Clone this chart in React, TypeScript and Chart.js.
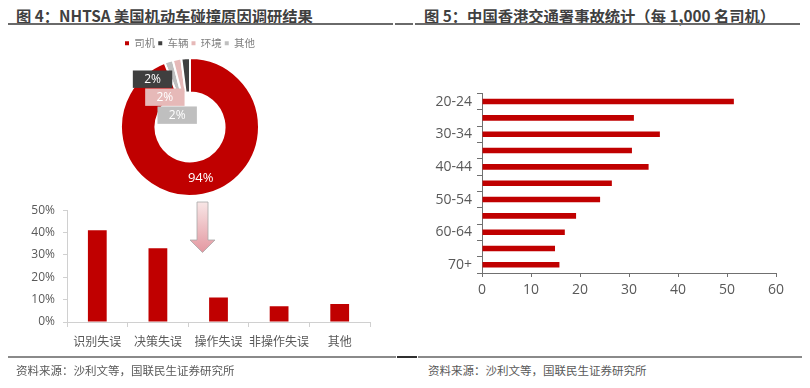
import React, { useEffect, useRef } from 'react';
import { Chart, registerables } from 'chart.js';

Chart.register(...registerables);

const FONT = '"Open Sans", "Noto Sans CJK SC", sans-serif';
const CJK = '"Noto Sans CJK SC", sans-serif';

// ---- Figure 4: doughnut ----
const pieLabels = ['司机', '车辆', '环境', '其他'];
const pieValues = [94, 2, 2, 2];
const pieColors = ['#C00000', '#3F3F3F', '#E6B9B8', '#BFBFBF'];

// ---- Figure 4: bar ----
const causeLabels = ['识别失误', '决策失误', '操作失误', '非操作失误', '其他'];
const causeValues = [41, 33, 11, 7, 8];
const causeTicks = [0, 10, 20, 30, 40, 50];

// ---- Figure 5: horizontal bar ----
const ageLabels = ['20-24', '25-29', '30-34', '35-39', '40-44', '45-49', '50-54', '55-59', '60-64', '65-69', '70+'];
const ageValues = [51.4, 31.0, 36.3, 30.6, 34.0, 26.5, 24.1, 19.2, 16.9, 14.9, 15.8];
const ageShownLabels = ['20-24', '30-34', '40-44', '50-54', '60-64', '70+'];
const ageTicks = [0, 10, 20, 30, 40, 50, 60];

const pieLabelPlugin = {
  id: 'pieLabelPlugin',
  afterDatasetsDraw(chart: any) {
    const ctx = chart.ctx;
    const meta = chart.getDatasetMeta(0);
    const ds = chart.data.datasets[0];
    const colors = ds.backgroundColor as string[];
    const smallIdx: number[] = [];
    ds.data.forEach((v: number, i: number) => { if (v < 10) smallIdx.push(i); });
    ctx.save();
    ctx.textAlign = 'center';
    ctx.textBaseline = 'middle';
    meta.data.forEach((arc: any, i: number) => {
      const v = ds.data[i];
      const label = v + '%';
      if (v >= 10) {
        const p = arc.tooltipPosition(true);
        ctx.font = `13px ${FONT}`;
        ctx.fillStyle = '#ffffff';
        ctx.fillText(label, p.x + 1, p.y);
      } else {
        const { x, y, outerRadius } = arc.getProps(['x', 'y', 'outerRadius'], true);
        const k = smallIdx.length - 1 - smallIdx.indexOf(i);
        const cx = x + outerRadius * (-0.543 + 0.1786 * k);
        const cy = y + outerRadius * (-0.693 + 0.2607 * k);
        const w = outerRadius * 0.571;
        const h = outerRadius * 0.252;
        ctx.fillStyle = colors[i];
        ctx.fillRect(cx - w / 2, cy - h / 2, w, h);
        ctx.font = `12px ${FONT}`;
        ctx.fillStyle = '#ffffff';
        ctx.fillText(label, cx, cy + 0.5);
      }
    });
    ctx.restore();
  },
};

export default function App() {
  const pieRef = useRef<HTMLCanvasElement>(null);
  const barRef = useRef<HTMLCanvasElement>(null);
  const hbarRef = useRef<HTMLCanvasElement>(null);

  useEffect(() => {
    Chart.defaults.font.family = FONT;
    const charts: Chart[] = [];

    // draw order clockwise from start: 其他, 环境, 车辆, 司机
    const order = pieLabels.map((_, i) => i).reverse();
    const total = pieValues.reduce((a, b) => a + b, 0);
    const smallShare = (total - pieValues[0]) / total;

    charts.push(new Chart(pieRef.current!, {
      type: 'doughnut',
      data: {
        labels: order.map((i) => pieLabels[i]),
        datasets: [{
          data: order.map((i) => pieValues[i]),
          backgroundColor: order.map((i) => pieColors[i]),
          borderColor: '#ffffff',
          borderWidth: 2,
        }],
      },
      options: {
        responsive: false,
        animation: false,
        devicePixelRatio: 1,
        rotation: -smallShare * 360,
        cutout: '50%',
        layout: { padding: { left: 20, right: 21, top: 0, bottom: 0 } },
        plugins: {
          tooltip: { enabled: false },
          legend: {
            position: 'top',
            reverse: true,
            maxHeight: 22,
            labels: {
              usePointStyle: true,
              pointStyle: 'rect',
              boxWidth: 4,
              boxHeight: 4,
              padding: 3,
              color: '#7F7F7F',
              font: { size: 10.5, family: CJK },
              generateLabels: (chart: any) =>
                (Chart as any).overrides.doughnut.plugins.legend.labels.generateLabels(chart).map((l: any) => ({
                  ...l, lineWidth: 0, strokeStyle: l.fillStyle,
                })),
            },
          },
        },
      } as any,
      plugins: [pieLabelPlugin],
    }));

    charts.push(new Chart(barRef.current!, {
      type: 'bar',
      data: {
        labels: causeLabels,
        datasets: [{ data: causeValues, backgroundColor: '#C00000', barPercentage: 0.31, categoryPercentage: 1 }],
      },
      options: {
        responsive: false,
        animation: false,
        devicePixelRatio: 1,
        layout: { padding: { top: 13, right: 20, left: 0, bottom: 0 } },
        plugins: { legend: { display: false }, tooltip: { enabled: false } },
        scales: {
          x: {
            grid: { drawOnChartArea: false, tickLength: 5, color: '#D0D0D0', offset: true },
            border: { color: '#D0D0D0' },
            ticks: { font: { size: 12, family: CJK }, color: '#595959', padding: 7, maxRotation: 0, autoSkip: false },
            afterFit: (s: any) => { s.height = 33; },
          },
          y: {
            min: causeTicks[0],
            max: causeTicks[causeTicks.length - 1],
            afterBuildTicks: (s: any) => { s.ticks = causeTicks.map((v) => ({ value: v })); },
            ticks: { callback: (v: any) => v + '%', font: { size: 12 }, color: '#595959', padding: 8 },
            grid: { drawOnChartArea: false, tickLength: 4, color: '#D0D0D0' },
            border: { color: '#D0D0D0' },
            afterFit: (s: any) => { s.width = 57; },
          },
        },
      } as any,
    }));

    charts.push(new Chart(hbarRef.current!, {
      type: 'bar',
      data: {
        labels: ageLabels,
        datasets: [{ data: ageValues, backgroundColor: '#C00000', barPercentage: 0.34, categoryPercentage: 1 }],
      },
      options: {
        indexAxis: 'y',
        responsive: false,
        animation: false,
        devicePixelRatio: 1,
        layout: { padding: { top: 9, right: 24, left: 0, bottom: 0 } },
        plugins: { legend: { display: false }, tooltip: { enabled: false } },
        scales: {
          y: {
            grid: { drawOnChartArea: false, tickLength: 5, color: '#707070', offset: true },
            border: { color: '#707070' },
            ticks: {
              autoSkip: false,
              callback: (_v: any, i: number) => (ageShownLabels.includes(ageLabels[i]) ? ageLabels[i] : ''),
              font: { size: 14 },
              color: '#595959',
              padding: 5,
            },
            afterFit: (s: any) => { s.width = 77; },
          },
          x: {
            min: ageTicks[0],
            max: ageTicks[ageTicks.length - 1],
            afterBuildTicks: (s: any) => { s.ticks = ageTicks.map((v) => ({ value: v })); },
            ticks: { font: { size: 14 }, color: '#595959', padding: 5 },
            grid: { drawOnChartArea: false, tickLength: 4, color: '#707070' },
            border: { color: '#707070' },
            afterFit: (s: any) => { s.height = 27; },
          },
        },
      } as any,
    }));

    return () => { charts.forEach((c) => c.destroy()); };
  }, []);

  const abs = (l: number, t: number, w: number, h: number, extra: any = {}) => ({
    position: 'absolute' as const, left: l, top: t, width: w, height: h, ...extra,
  });

  const titleStyle = {
    position: 'absolute' as const, top: 5, fontSize: 15.3, fontWeight: 700, color: '#404040',
    lineHeight: '20px', whiteSpace: 'nowrap' as const, fontFamily: CJK,
  };
  const srcStyle = {
    position: 'absolute' as const, top: 362, fontSize: 11.5, color: '#595959',
    lineHeight: '16px', whiteSpace: 'nowrap' as const, fontFamily: CJK,
  };

  return (
    <div style={{ position: 'absolute', left: 0, top: 0, width: 810, height: 388, background: '#ffffff', overflow: 'hidden' }}>
      <div style={{ ...titleStyle, left: 16 }}>图 4：NHTSA 美国机动车碰撞原因调研结果</div>
      <div style={{ ...titleStyle, left: 424 }}>图 5：中国香港交通署事故统计（每 1,000 名司机）</div>
      <div style={abs(8, 23, 385, 2, { background: '#6A6A6A' })} />
      <div style={abs(395, 23, 18, 2, { background: '#6A6A6A' })} />
      <div style={abs(415, 23, 385, 2, { background: '#6A6A6A' })} />

      <canvas ref={pieRef} width={181} height={162} style={abs(100, 35, 181, 162)} />
      <canvas ref={barRef} width={380} height={160} style={abs(10, 195, 380, 160)} />
      <canvas ref={hbarRef} width={395} height={220} style={abs(405, 80, 395, 220)} />

      <svg style={abs(188, 200, 30, 55)} width={30} height={55}>
        <defs>
          <linearGradient id="arrowGrad" x1="0" y1="0" x2="0" y2="1">
            <stop offset="0%" stopColor="#F8E6E6" />
            <stop offset="100%" stopColor="#E397A0" />
          </linearGradient>
        </defs>
        <path d="M9 2 H20 V40 H27 L14.5 52.5 L2 40 H9 Z" fill="url(#arrowGrad)" stroke="#A8A8A8" strokeWidth={0.8} />
      </svg>

      <div style={abs(8, 356, 388, 2, { background: '#8A8A8A' })} />
      <div style={abs(397, 356, 20, 2, { background: '#303030' })} />
      <div style={abs(418, 356, 384, 2, { background: '#8A8A8A' })} />
      <div style={{ ...srcStyle, left: 16 }}>资料来源：沙利文等，国联民生证券研究所</div>
      <div style={{ ...srcStyle, left: 428 }}>资料来源：沙利文等，国联民生证券研究所</div>
    </div>
  );
}
